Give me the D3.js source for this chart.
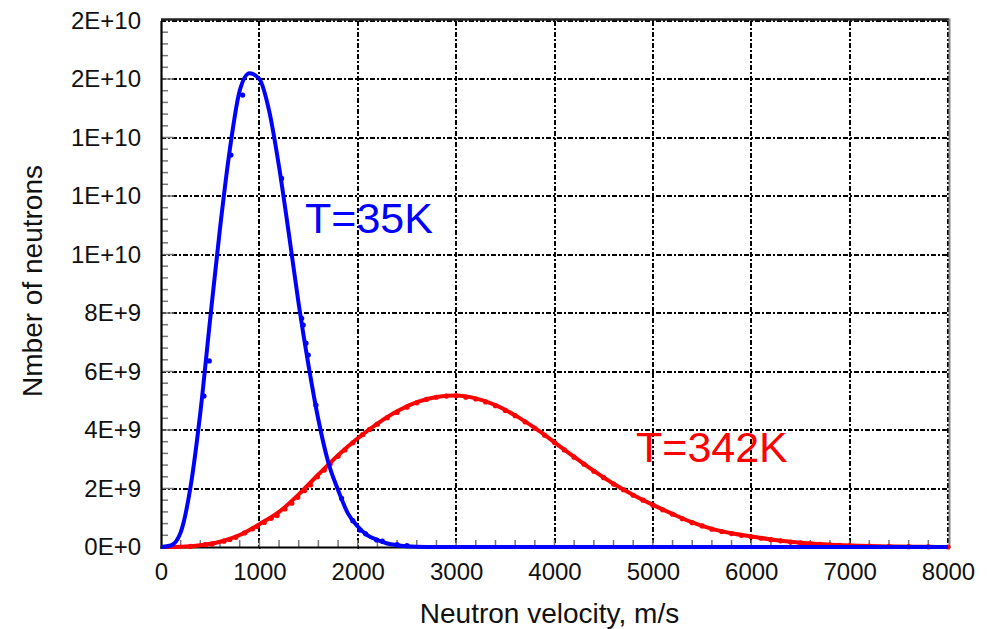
<!DOCTYPE html>
<meta charset="utf-8">
<title>Neutron velocity</title>
<script src="https://d3js.org/d3.v7.min.js"></script>
<style>
  body { margin: 0; background: #fff; }
  text { font-family: "Liberation Sans", Arial, sans-serif; }
  .grid line { stroke: #000; stroke-width: 2px; stroke-dasharray: 5,2,2,2; shape-rendering: crispEdges; }
</style>
<body>
<div id="chart"></div>
<script>
// fitted curves (velocity m/s, neutrons in 1e9)
var blueV = [0, 100, 200, 300, 400, 500, 600, 700, 800, 900, 1000, 1100, 1200, 1300, 1400, 1500, 1600, 1700, 1800, 1900, 2000, 2100, 2200, 2300, 2400, 2600, 2800, 3000, 4000, 5000, 6000, 7000, 8000];
var blueN = [0, 0.05, 0.5, 2.05, 4.6, 7.8, 10.9, 13.6, 15.6, 16.2, 16.0, 14.9, 13.0, 10.7, 8.3, 6.2, 4.35, 2.9, 1.95, 1.15, 0.7, 0.4, 0.24, 0.12, 0.06, 0.01, 0, 0, 0, 0, 0, 0, 0];
var redV = [0, 200, 400, 600, 800, 1000, 1200, 1400, 1600, 1800, 2000, 2200, 2400, 2600, 2800, 3000, 3200, 3400, 3600, 3800, 4000, 4200, 4400, 4600, 4800, 5000, 5200, 5400, 5600, 5800, 6000, 6200, 6400, 6600, 6800, 7000, 7200, 7400, 7600, 7800, 8000];
var redN = [0, 0.01, 0.06, 0.18, 0.41, 0.78, 1.2, 1.8, 2.48, 3.14, 3.72, 4.22, 4.64, 4.95, 5.13, 5.18, 5.08, 4.85, 4.5, 4.07, 3.58, 3.08, 2.6, 2.16, 1.78, 1.44, 1.13, 0.84, 0.62, 0.47, 0.36, 0.26, 0.18, 0.12, 0.08, 0.05, 0.03, 0.02, 0.01, 0.005, 0];

// measured points
var blueDotV = [437, 491, 711, 830, 1226, 1430, 1446, 1474, 1497, 1575, 1836, 1950, 2022, 2080, 2192, 2250, 2400, 2500];
var blueDotN = [5.16, 6.36, 13.4, 15.45, 12.6, 7.82, 7.59, 6.97, 6.56, 4.85, 1.66, 0.9, 0.58, 0.45, 0.24, 0.2, 0.08, 0.05];
var redDotV = [300, 450, 520, 640, 700, 760, 850, 930, 980, 1050, 1120, 1180, 1260, 1330, 1390, 1460, 1520, 1590, 1660, 1720, 1800, 1870, 1950, 2050, 2120, 2200, 2300, 2400, 2500, 2600, 2700, 2800, 2900, 3000, 3100, 3200, 3300, 3400, 3500, 3600, 3700, 3800, 3900, 4000, 4100, 4200, 4300, 4400, 4500, 4600, 4700, 4800, 4900, 5000, 5100, 5200, 5300, 5400, 5500, 5600, 5700, 5800, 5900, 6000, 6100, 6200, 6300, 6400, 6500, 6600, 6700, 6800, 6900, 7000, 7200, 7400, 7600, 7800, 8000];
var redDotN = [0.02, 0.08, 0.1, 0.2, 0.26, 0.33, 0.48, 0.62, 0.7, 0.84, 0.98, 1.08, 1.3, 1.5, 1.7, 1.93, 2.12, 2.4, 2.63, 2.84, 3.1, 3.32, 3.56, 3.84, 4.02, 4.2, 4.42, 4.6, 4.78, 4.93, 5.05, 5.12, 5.16, 5.17, 5.12, 5.06, 4.96, 4.83, 4.67, 4.49, 4.28, 4.06, 3.82, 3.57, 3.32, 3.07, 2.83, 2.59, 2.37, 2.15, 1.96, 1.77, 1.6, 1.43, 1.27, 1.12, 0.97, 0.83, 0.72, 0.61, 0.53, 0.46, 0.4, 0.35, 0.3, 0.25, 0.21, 0.17, 0.14, 0.11, 0.09, 0.07, 0.06, 0.05, 0.03, 0.02, 0.01, 0.005, 0];

var xTicks = d3.range(0, 8001, 1000);
var yTicks = d3.range(0, 1.8e10 + 1, 2e9);

var margin = {top: 20.5, right: 46, bottom: 82, left: 161},
    width = 994 - margin.left - margin.right,
    height = 629 - margin.top - margin.bottom;

var svg = d3.select("#chart").append("svg")
    .attr("width", 994)
    .attr("height", 629)
  .append("g")
    .attr("transform", "translate(" + margin.left + "," + margin.top + ")");

var x = d3.scaleLinear().domain([0, 8000]).range([0, width]);
var y = d3.scaleLinear().domain([0, 1.8e10]).range([height, 0]);

// grid
svg.append("g").attr("class", "grid")
  .selectAll("line").data(xTicks.slice(1)).enter().append("line")
    .attr("x1", function(d) { return x(d); }).attr("x2", function(d) { return x(d); })
    .attr("y1", 0).attr("y2", height);
svg.append("g").attr("class", "grid")
  .selectAll("line").data(yTicks.slice(1)).enter().append("line")
    .attr("x1", 0).attr("x2", width)
    .attr("y1", function(d) { return y(d); }).attr("y2", function(d) { return y(d); });

// minor ticks (inside)
svg.append("g").selectAll("line").data(d3.range(200, 8000, 200)).enter().append("line")
    .attr("x1", function(d) { return x(d); }).attr("x2", function(d) { return x(d); })
    .attr("y1", height).attr("y2", height - 7)
    .attr("stroke", "#777").attr("stroke-width", 1.5);
svg.append("g").selectAll("line").data(d3.range(4e8, 1.8e10, 4e8)).enter().append("line")
    .attr("x1", 0).attr("x2", function(d) { return d % 2e9 === 0 ? 13 : 7; })
    .attr("y1", function(d) { return y(d); }).attr("y2", function(d) { return y(d); })
    .attr("stroke", "#777").attr("stroke-width", 1.5);

// frame
svg.append("line").attr("x1", 0).attr("x2", width + 1).attr("y1", -1).attr("y2", -1)
    .attr("stroke", "#222").attr("stroke-width", 2.5);
svg.append("line").attr("x1", width + 1.5).attr("x2", width + 1.5).attr("y1", -2).attr("y2", height + 1)
    .attr("stroke", "#888").attr("stroke-width", 2);

// axes
var xAxis = svg.append("g")
    .attr("transform", "translate(0," + height + ")")
    .call(d3.axisBottom(x).tickValues(xTicks).tickSize(2).tickPadding(14).tickFormat(d3.format("d")));
var yAxis = svg.append("g")
    .call(d3.axisLeft(y).tickValues(yTicks).tickSize(0).tickPadding(20)
      .tickFormat(function(d) { return d3.format(".0e")(d).replace("e", "E"); }));
[xAxis, yAxis].forEach(function(a) {
  a.select(".domain").attr("stroke", "#000").attr("stroke-width", 2.2);
  a.selectAll(".tick line").attr("stroke", "#000").attr("stroke-width", 1.5);
  a.selectAll("text").attr("font-size", "24px").attr("fill", "#111")
    .style("font-family", "'Liberation Sans', Arial, sans-serif");
});

// titles
svg.append("text")
    .attr("x", width / 2 - 5).attr("y", 623 - margin.top)
    .attr("text-anchor", "middle").attr("font-size", "28px").attr("fill", "#111")
    .text("Neutron velocity, m/s");
svg.append("text")
    .attr("transform", "translate(" + (42 - margin.left) + "," + (281 - margin.top) + ") rotate(-90)")
    .attr("text-anchor", "middle").attr("font-size", "28px").attr("fill", "#111")
    .text("Nmber of neutrons");

var line = d3.line()
    .x(function(d) { return x(d[0]); })
    .y(function(d) { return y(d[1] * 1e9); })
    .curve(d3.curveMonotoneX);

// red series
svg.append("path")
    .datum(d3.zip(redV, redN))
    .attr("d", line).attr("fill", "none")
    .attr("stroke", "#ff0000").attr("stroke-width", 4);
svg.append("g").selectAll("circle").data(d3.zip(redDotV, redDotN)).enter().append("circle")
    .attr("cx", function(d) { return x(d[0]); })
    .attr("cy", function(d) { return y(d[1] * 1e9); })
    .attr("r", 2.6).attr("fill", "#ff0000");

// blue series
svg.append("path")
    .datum(d3.zip(blueV, blueN))
    .attr("d", line).attr("fill", "none")
    .attr("stroke", "#0000ff").attr("stroke-width", 4);
svg.append("g").selectAll("circle").data(d3.zip(blueDotV, blueDotN)).enter().append("circle")
    .attr("cx", function(d) { return x(d[0]); })
    .attr("cy", function(d) { return y(d[1] * 1e9); })
    .attr("r", 2.6).attr("fill", "#0000ff");

// labels
svg.append("text")
    .attr("x", 305 - margin.left).attr("y", 233 - margin.top)
    .attr("font-size", "43px").attr("fill", "#0000ff")
    .text("T=35K");
svg.append("text")
    .attr("x", 636 - margin.left).attr("y", 462 - margin.top)
    .attr("font-size", "43px").attr("fill", "#ff0000")
    .text("T=342K");
</script>
</body>
